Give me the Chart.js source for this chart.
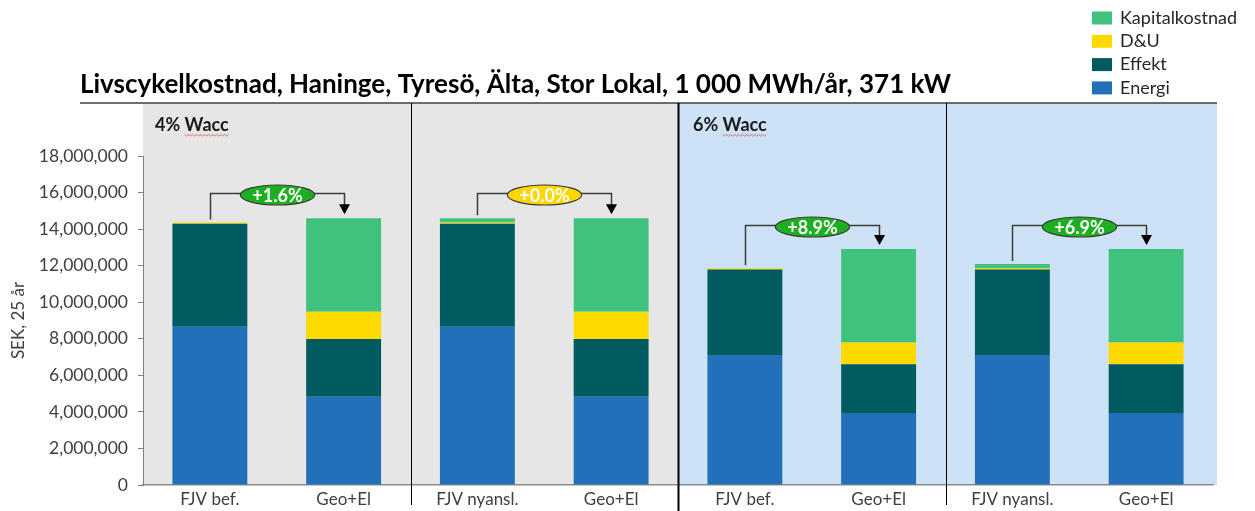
<!DOCTYPE html>
<html>
<head>
<meta charset="utf-8">
<script src="https://cdn.jsdelivr.net/npm/chart.js@4.4.1/dist/chart.umd.min.js"></script>
<style>
  html, body { margin: 0; padding: 0; background: #fff; }
</style>
</head>
<body>
<canvas id="lccChart" width="1255" height="511"></canvas>
<script>
// Bars: two Wacc scenarios with four bars each
const categories = ['FJV bef.', 'Geo+El', 'FJV nyansl.', 'Geo+El', 'FJV bef.', 'Geo+El', 'FJV nyansl.', 'Geo+El'];

// Cost components, SEK over 25 years
const energi  = [8660000, 4830000, 8660000, 4830000, 7110000, 3940000, 7110000, 3940000];
const effekt  = [5630000, 3160000, 5630000, 3160000, 4680000, 2660000, 4680000, 2660000];
const dou     = [70000, 1490000, 70000, 1490000, 70000, 1190000, 70000, 1190000];
const kapital = [0, 5110000, 230000, 5110000, 0, 5120000, 230000, 5120000];

// Scenario panels (first and last bar index)
const panelLabels = ['4% Wacc', '6% Wacc'];
const panelRanges = [[0, 3], [4, 7]];

// Comparison brackets between bar pairs
const compareFrom = [0, 2, 4, 6];
const compareTo = [1, 3, 5, 7];
const compareLabels = ['+1.6%', '+0.0%', '+8.9%', '+6.9%'];
const bracketLevels = [16000000, 16000000, 14250000, 14250000];

const chartTitle = 'Livscykelkostnad, Haninge, Tyresö, Älta, Stor Lokal, 1 000 MWh/år, 371 kW';
const yTitle = 'SEK, 25 år';

const FONT = "Lato, 'Open Sans', sans-serif";

// stack totals, used for the bracket ends
const totals = categories.map((c, i) => energi[i] + effekt[i] + dou[i] + kapital[i]);

// Panels, dividers, brackets, title and legend drawn around the bars
const decorPlugin = {
  id: 'decor',
  beforeDraw(chart) {
    const { ctx, chartArea, scales: { x } } = chart;
    const half = (x.getPixelForValue(1) - x.getPixelForValue(0)) / 2;
    const top = chartArea.top - 53;
    const fills = ['#E6E6E6', '#CDE3F5'];
    ctx.save();
    panelRanges.forEach(([a, b], i) => {
      const left = x.getPixelForValue(a) - half;
      const right = x.getPixelForValue(b) + half + (i === panelRanges.length - 1 ? 4 : 0);
      ctx.fillStyle = fills[i];
      ctx.fillRect(left, top, right - left, chartArea.bottom - top);
    });
    ctx.restore();
  },
  afterDraw(chart) {
    const { ctx, chartArea, scales: { x, y } } = chart;
    const half = (x.getPixelForValue(1) - x.getPixelForValue(0)) / 2;
    const top = chartArea.top - 53;
    ctx.save();

    // line under the title
    ctx.strokeStyle = '#404040';
    ctx.lineWidth = 1.5;
    ctx.beginPath();
    ctx.moveTo(80, top);
    ctx.lineTo(chartArea.right + 4, top);
    ctx.stroke();

    // dividers between the bar pairs
    compareTo.slice(0, -1).forEach((idx) => {
      const xb = Math.round(x.getPixelForValue(idx) + half) + 0.5;
      const panelEnd = panelRanges.some(r => r[1] === idx);
      ctx.strokeStyle = '#000';
      ctx.lineWidth = panelEnd ? 2 : 1;
      ctx.beginPath();
      ctx.moveTo(xb, top);
      ctx.lineTo(xb, panelEnd ? chart.height : chartArea.bottom + 20);
      ctx.stroke();
    });

    // panel labels
    ctx.font = 'bold 18px ' + FONT;
    ctx.fillStyle = '#1a1a1a';
    ctx.textBaseline = 'middle';
    ctx.textAlign = 'left';
    panelLabels.forEach((lab, i) => {
      const lx = x.getPixelForValue(panelRanges[i][0]) - half + 12 + i * 3;
      const ly = top + 22;
      ctx.fillText(lab, lx, ly);
      // spell-check squiggle under the word
      const word = lab.split(' ')[1];
      const wx = lx + ctx.measureText(lab.split(' ')[0] + ' ').width;
      const ww = ctx.measureText(word).width;
      ctx.strokeStyle = '#E05050';
      ctx.lineWidth = 0.8;
      ctx.beginPath();
      for (let k = 0; k <= ww; k += 2) {
        const yy = ly + 10 + ((k / 2) % 2 ? 1 : -0.5);
        if (k === 0) ctx.moveTo(wx + k, yy); else ctx.lineTo(wx + k, yy);
      }
      ctx.stroke();
    });

    // comparison brackets with ellipse labels
    compareFrom.forEach((from, i) => {
      const to = compareTo[i];
      const x1 = Math.round(x.getPixelForValue(from)) + 0.5;
      const x2 = Math.round(x.getPixelForValue(to)) + 0.5;
      const yl = Math.round(y.getPixelForValue(bracketLevels[i])) + 0.5;
      const y1 = y.getPixelForValue(totals[from]) - 3;
      const y2 = y.getPixelForValue(totals[to]) - 4;

      ctx.strokeStyle = '#3c3c3c';
      ctx.lineWidth = 1.5;
      ctx.beginPath();
      ctx.moveTo(x1, y1);
      ctx.lineTo(x1, yl);
      ctx.lineTo(x2, yl);
      ctx.lineTo(x2, y2 - 9);
      ctx.stroke();

      ctx.fillStyle = '#000';
      ctx.beginPath();
      ctx.moveTo(x2 - 5.5, y2 - 10);
      ctx.lineTo(x2 + 5.5, y2 - 10);
      ctx.lineTo(x2, y2);
      ctx.closePath();
      ctx.fill();

      ctx.font = 'bold 18px ' + FONT;
      const tw = ctx.measureText(compareLabels[i]).width;
      const cx = (x1 + x2) / 2;
      const cy = yl + 1.5;
      ctx.beginPath();
      ctx.ellipse(cx, cy, tw / 2 + 12, 10, 0, 0, Math.PI * 2);
      ctx.fillStyle = compareLabels[i] === '+0.0%' ? '#FFD700' : '#1EAE22';
      ctx.fill();
      ctx.strokeStyle = '#3a3a3a';
      ctx.lineWidth = 1.2;
      ctx.stroke();
      ctx.fillStyle = '#fff';
      ctx.textAlign = 'center';
      ctx.fillText(compareLabels[i], cx, cy + 1);
    });

    // title
    ctx.font = 'bold 26px ' + FONT;
    ctx.fillStyle = '#000';
    ctx.textAlign = 'left';
    ctx.textBaseline = 'middle';
    ctx.fillText(chartTitle, 80, 85);

    // legend, top series first
    ctx.font = '18px ' + FONT;
    chart.data.datasets.slice().reverse().forEach((ds, i) => {
      const ry = 18 + i * 23.3;
      ctx.fillStyle = ds.backgroundColor;
      ctx.fillRect(1092, ry - 6.5, 20, 13);
      ctx.fillStyle = '#262626';
      ctx.fillText(ds.label, 1120, ry);
    });

    ctx.restore();
  }
};

const ctx = document.getElementById('lccChart').getContext('2d');
const chart = new Chart(ctx, {
  type: 'bar',
  data: {
    labels: categories,
    datasets: [
      { label: 'Energi', data: energi, backgroundColor: '#2271B8' },
      { label: 'Effekt', data: effekt, backgroundColor: '#005B60' },
      { label: 'D&U', data: dou, backgroundColor: '#FFDA00' },
      { label: 'Kapitalkostnad', data: kapital, backgroundColor: '#3FC27E' }
    ]
  },
  options: {
    responsive: false,
    animation: false,
    layout: { padding: { top: 156, right: 42, bottom: 0, left: 0 } },
    datasets: {
      bar: { categoryPercentage: 1.0, barPercentage: 0.56, borderWidth: 0 }
    },
    plugins: {
      legend: { display: false },
      title: { display: false },
      tooltip: { enabled: false }
    },
    scales: {
      x: {
        stacked: true,
        grid: { display: false, drawTicks: false },
        border: { display: true, color: '#8C8C8C', width: 1.5 },
        ticks: { color: '#404040', font: { family: FONT, size: 17 }, padding: 4, maxRotation: 0 },
        afterFit(scale) { scale.height = 26; }
      },
      y: {
        stacked: true,
        min: 0,
        max: 18000000,
        grid: { drawOnChartArea: false, drawTicks: true, tickLength: 5, color: '#808080' },
        border: { display: true, color: '#808080', width: 1 },
        ticks: {
          stepSize: 2000000,
          color: '#404040',
          padding: 10,
          font: { family: FONT, size: 17.5 },
          callback: (v) => v.toLocaleString('en-US')
        },
        title: {
          display: true,
          text: yTitle,
          color: '#404040',
          font: { family: FONT, size: 17 },
          padding: { top: 8, bottom: 0 }
        },
        afterFit(scale) { scale.width = 143; }
      }
    }
  },
  plugins: [decorPlugin]
});
</script>
</body>
</html>
